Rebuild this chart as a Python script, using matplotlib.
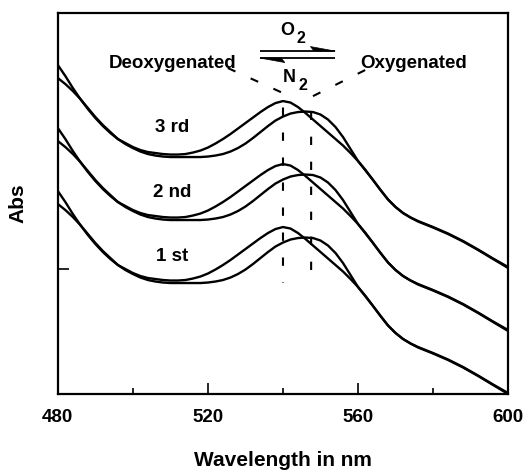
import numpy as np
import matplotlib
matplotlib.use("Agg")
import matplotlib.pyplot as plt
from matplotlib.patches import Polygon

plt.rcParams['font.family'] = ['Liberation Sans', 'DejaVu Sans']
plt.rcParams['font.weight'] = 'bold'

# Spectra (top cycle), absorbance in arbitrary units
wavelength = [480, 482, 484, 486, 488, 490, 492, 494, 496, 498, 500, 502, 504,
              506, 508, 510, 512, 514, 516, 518, 520, 522, 524, 526, 528, 530,
              532, 534, 536, 538, 540, 542, 544, 546, 548, 550, 552, 554, 556,
              558, 560, 562, 564, 566, 568, 570, 572, 574, 576, 578, 580, 584,
              588, 592, 596, 600]
deoxy = [0.658, 0.636, 0.612, 0.590, 0.570, 0.552, 0.536, 0.522, 0.510, 0.502,
         0.494, 0.488, 0.484, 0.482, 0.480, 0.479, 0.479, 0.480, 0.483, 0.487,
         0.493, 0.501, 0.510, 0.520, 0.531, 0.542, 0.553, 0.564, 0.574, 0.582,
         0.586, 0.583, 0.574, 0.562, 0.549, 0.536, 0.523, 0.510, 0.497, 0.482,
         0.466, 0.448, 0.428, 0.408, 0.389, 0.374, 0.362, 0.353, 0.346, 0.340,
         0.334, 0.321, 0.306, 0.289, 0.271, 0.254]
oxy = [0.632, 0.620, 0.606, 0.590, 0.572, 0.554, 0.538, 0.524, 0.510, 0.500,
       0.492, 0.485, 0.480, 0.477, 0.475, 0.474, 0.474, 0.474, 0.474, 0.474,
       0.475, 0.477, 0.480, 0.485, 0.492, 0.501, 0.512, 0.524, 0.536, 0.547,
       0.555, 0.561, 0.564, 0.565, 0.564, 0.559, 0.549, 0.534, 0.514, 0.490,
       0.466, 0.447, 0.428, 0.408, 0.389, 0.374, 0.362, 0.353, 0.345, 0.339,
       0.333, 0.320, 0.305, 0.288, 0.270, 0.252]

cycle_labels = ['3 rd', '2 nd', '1 st']
cycle_offsets = [0.0, 0.126, 0.252]
label_y = [0.534, 0.404, 0.276]

peak_deoxy = 540.0
peak_oxy = 547.5

fig = plt.figure(figsize=(5.26, 4.75), dpi=100)
ax = fig.add_axes([0.110, 0.1705, 0.856, 0.802])

wl = np.array(wavelength)
for off, lab, ly in zip(cycle_offsets, cycle_labels, label_y):
    ax.plot(wl, np.array(deoxy) - off, color='black', lw=1.7)
    ax.plot(wl, np.array(oxy) - off, color='black', lw=1.7)
    ax.text(510.5, ly, lab, ha='center', va='center', fontsize=13.5, fontweight='bold')

# dashed guide lines from labels to peak positions
ax.plot([525.3, peak_deoxy, peak_deoxy], [0.652, 0.602, 0.222], color='black',
        lw=1.5, dashes=(4, 8))
ax.plot([561.9, peak_oxy, peak_oxy], [0.648, 0.594, 0.222], color='black',
        lw=1.5, dashes=(4, 8))

ax.text(510.7, 0.662, 'Deoxygenated', ha='center', va='center', fontsize=13.5, fontweight='bold')
ax.text(574.9, 0.662, 'Oxygenated', ha='center', va='center', fontsize=13.5, fontweight='bold')
ax.text(541.1, 0.727, 'O', ha='center', va='center', fontsize=13, fontweight='bold')
ax.text(544.7, 0.712, '2', ha='center', va='center', fontsize=11.5, fontweight='bold')
ax.text(541.6, 0.634, 'N', ha='center', va='center', fontsize=13, fontweight='bold')
ax.text(545.2, 0.617, '2', ha='center', va='center', fontsize=11.5, fontweight='bold')

# equilibrium half-arrows
ax.plot([533.9, 553.9], [0.686, 0.686], color='black', lw=1.3, solid_capstyle='butt')
ax.add_patch(Polygon([[553.9, 0.686], [547.3, 0.695], [548.3, 0.686]], closed=True,
                     color='black', lw=0.5))
ax.plot([533.9, 553.9], [0.672, 0.672], color='black', lw=1.3, solid_capstyle='butt')
ax.add_patch(Polygon([[533.9, 0.672], [540.5, 0.663], [539.5, 0.672]], closed=True,
                     color='black', lw=0.5))

ax.set_xlim(480, 600)
ax.set_ylim(0, 0.762)
ax.set_xticks([480, 520, 560, 600])
ax.set_xticks([500, 540, 580], minor=True)
ax.set_yticks([0.25])
ax.set_yticklabels([])
ax.tick_params(axis='x', which='major', direction='in', length=8, width=1.2,
               labelsize=13.5, pad=11)
ax.tick_params(axis='y', which='major', direction='in', length=8, width=1.2, pad=2)
ax.tick_params(axis='x', which='minor', direction='in', length=4, width=1.2)
for lab in ax.get_xticklabels():
    lab.set_fontweight('bold')
for s in ax.spines.values():
    s.set_linewidth(1.6)

ax.set_xlabel('Wavelength in nm', fontsize=15, fontweight='bold', labelpad=18)
ax.set_ylabel('Abs', fontsize=15, fontweight='bold', labelpad=20)

fig.savefig('out.png', dpi=100)
